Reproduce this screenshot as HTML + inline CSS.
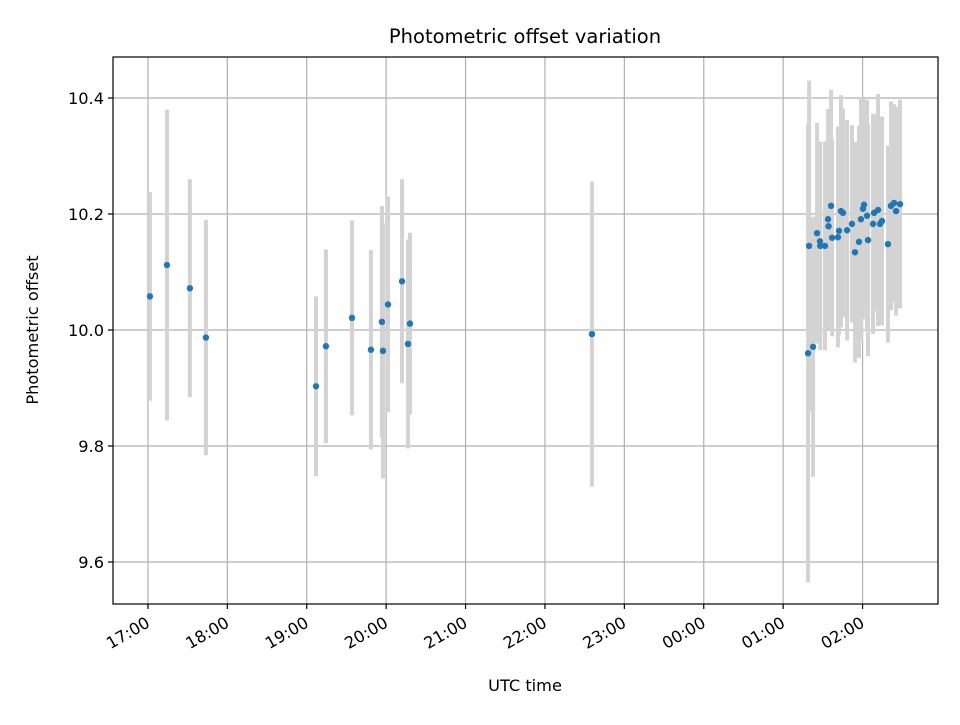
<!DOCTYPE html>
<html><head><meta charset="utf-8"><style>
html,body{margin:0;padding:0;background:#fff}
svg text{font-family:"DejaVu Sans","Liberation Sans",sans-serif;fill:#000}
</style></head><body>
<svg id="chart" width="960" height="720" viewBox="0 0 960 720" xmlns="http://www.w3.org/2000/svg">
<rect width="960" height="720" fill="#fff"/>
<g id="grid"></g>
<g id="bars"></g>
<g id="pts"></g>
<rect x="113" y="57" width="825" height="547" fill="none" stroke="#000" stroke-width="1.2"/>
<g id="ticks"></g>
<text x="525" y="43" font-size="19.5" text-anchor="middle">Photometric offset variation</text>
<text x="525" y="691" font-size="16.2" text-anchor="middle">UTC time</text>
<text transform="translate(38,330) rotate(-90)" font-size="16.2" text-anchor="middle">Photometric offset</text>
</svg>
<script>
// minutes after 17:00 UTC
const times=[1.5,14.4,31.7,43.8,127,134.5,154.2,168.5,176.8,177.6,181.4,192,196.5,198,335.5,
498.8,502.6,499.6,505.6,507.8,508,511.6,513.9,514.3,516.2,517,521.4,522.2,523.7,525.2,528.3,532,534.3,537.3,538.8,540.3,541.1,543.4,544.1,547.9,548.7,551.7,553.2,554.7,559.2,561.5,563.8,565.3,568.3];
const offsets=[10.058,10.112,10.072,9.987,9.903,9.972,10.021,9.966,10.014,9.964,10.044,10.084,9.976,10.011,9.993,
9.960,9.971,10.145,10.167,10.153,10.145,10.145,10.191,10.179,10.214,10.159,10.160,10.171,10.205,10.202,10.172,10.183,10.134,10.152,10.191,10.209,10.216,10.197,10.155,10.183,10.202,10.207,10.183,10.188,10.148,10.214,10.219,10.205,10.217];
const errors=[0.18,0.268,0.188,0.203,0.155,0.167,0.168,0.172,0.2,0.22,0.186,0.176,0.18,0.157,0.263,
0.395,0.224,0.285,0.19,0.17,0.18,0.18,0.19,0.17,0.2,0.17,0.19,0.18,0.2,0.18,0.19,0.17,0.19,0.2,0.21,0.19,0.18,0.2,0.2,0.19,0.17,0.2,0.17,0.18,0.17,0.18,0.17,0.18,0.18];
const xTickLabels=["17:00","18:00","19:00","20:00","21:00","22:00","23:00","00:00","01:00","02:00"];
const xTickMinutes=[0,60,120,180,240,300,360,420,480,540];
const yTicks=[9.6,9.8,10.0,10.2,10.4];
const X0=113,X1=938,Y0=57,Y1=604,xMin=-26.4,xMax=597,yMin=9.5276,yMax=10.4707;
const xs=m=>X0+(m-xMin)/(xMax-xMin)*(X1-X0);
const ys=v=>Y1-(v-yMin)/(yMax-yMin)*(Y1-Y0);
const NS="http://www.w3.org/2000/svg";
function mk(t,a,p){const e=document.createElementNS(NS,t);for(const k in a)e.setAttribute(k,a[k]);p.appendChild(e);return e;}
const grid=document.getElementById('grid'),ticks=document.getElementById('ticks'),bars=document.getElementById('bars'),pts=document.getElementById('pts');
xTickMinutes.forEach((m,i)=>{const x=xs(m);
 const g=mk('line',{x1:x,x2:x,y1:Y0,y2:Y1,stroke:'#b0b0b0','stroke-width':1.2},grid);
 
 
 const t=mk('line',{x1:x,x2:x,y1:Y1,y2:Y1+5,stroke:'#000','stroke-width':1.2},ticks);
 
 
 const l=mk('text',{'font-size':16.2,'text-anchor':'end',transform:`translate(${x+3},${Y1+22}) rotate(-30)`},ticks);
 l.textContent=xTickLabels[i];
 
 
});
yTicks.forEach(v=>{const y=ys(v);
 const g=mk('line',{x1:X0,x2:X1,y1:y,y2:y,stroke:'#b0b0b0','stroke-width':1.2},grid);
 
 
 const t=mk('line',{x1:X0-5,x2:X0,y1:y,y2:y,stroke:'#000','stroke-width':1.2},ticks);
 
 
 const l=mk('text',{x:X0-9,y:y+6,'font-size':16.2,'text-anchor':'end'},ticks);
 l.textContent=v.toFixed(1);
 
 
});
times.forEach((m,i)=>{const x=xs(m);
 const b=mk('line',{x1:x,x2:x,y1:ys(offsets[i]+errors[i]),y2:ys(offsets[i]-errors[i]),stroke:'#d3d3d3','stroke-width':4},bars);
 
 
});
times.forEach((m,i)=>{
 const c=mk('circle',{cx:xs(m),cy:ys(offsets[i]),r:3.2,fill:'#1f77b4'},pts);
 
 
});
</script>
</body></html>
